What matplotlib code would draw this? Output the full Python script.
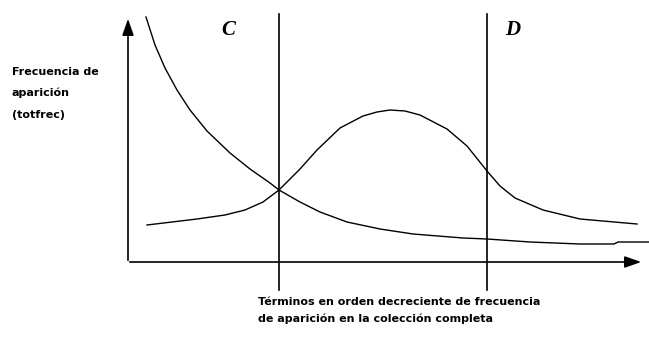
import matplotlib.pyplot as plt

# curve points (pixel coords, y grows downward)
dec_x = [146, 155, 165, 177, 190, 207, 230, 250, 270, 279, 300, 320, 347, 380, 413, 463, 487, 530, 580, 614, 618, 649]
dec_y = [17, 45, 68, 90, 110, 131, 153, 169, 183, 190, 202, 212, 222, 229, 234, 238, 239, 242, 244, 244, 242, 242]
bell_x = [147, 197, 225, 245, 263, 279, 300, 317, 340, 363, 377, 390, 405, 420, 447, 467, 487, 500, 515, 543, 580, 637]
bell_y = [225, 219, 215, 210, 202, 190, 169, 150, 128, 116, 112, 110, 111, 115, 129, 146, 171, 186, 198, 210, 219, 224]
cut_x = [279, 487]
cut_labels = ['C', 'D']

fig = plt.figure(figsize=(6.49, 3.42), dpi=100)
ax = fig.add_axes([0, 0, 1, 1])
ax.set_xlim(0, 649)
ax.set_ylim(342, 0)
ax.axis('off')

ax.plot(dec_x, dec_y, color='black', lw=1, solid_joinstyle='round')
ax.plot(bell_x, bell_y, color='black', lw=1, solid_joinstyle='round')

for x in cut_x:
    ax.plot([x, x], [14, 290], color='black', lw=1.2)

# ejes con flechas
ax.annotate('', xy=(128, 16), xytext=(128, 263),
            arrowprops=dict(arrowstyle='-|>,head_width=0.35,head_length=1.0', color='black', lw=1.2))
ax.annotate('', xy=(644, 262), xytext=(127, 262),
            arrowprops=dict(arrowstyle='-|>,head_width=0.35,head_length=1.0', color='black', lw=1.2))

ax.text(228, 30, cut_labels[0], fontsize=15, fontweight='bold', fontstyle='italic',
        family='Liberation Serif', ha='center', va='center')
ax.text(513, 30, cut_labels[1], fontsize=15, fontweight='bold', fontstyle='italic',
        family='Liberation Serif', ha='center', va='center')

ax.text(12, 72, 'Frecuencia de', fontsize=8, fontweight='bold', va='center')
ax.text(12, 93, 'aparición', fontsize=8, fontweight='bold', va='center')
ax.text(12, 115, '(totfrec)', fontsize=8, fontweight='bold', va='center')

ax.text(258, 302, 'Términos en orden decreciente de frecuencia', fontsize=8, fontweight='bold', va='center')
ax.text(258, 319, 'de aparición en la colección completa', fontsize=8, fontweight='bold', va='center')

fig.savefig('out.png', dpi=100)
